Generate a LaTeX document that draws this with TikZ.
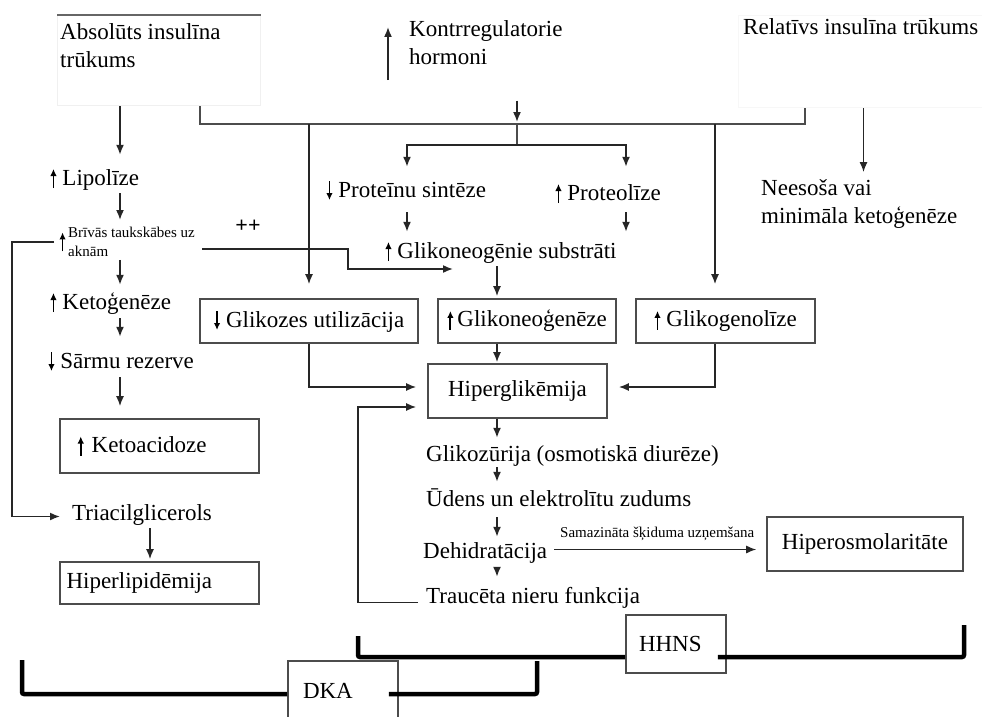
\documentclass[tikz,border=0pt]{standalone}
\usepackage{fontspec}
\setmainfont{Liberation Serif}
\usetikzlibrary{arrows.meta,calc}
\tikzset{
  >={Latex[length=10pt,width=8pt]},
  txt/.style={font=\fontsize{23}{28}\selectfont, inner sep=1pt, align=left},
  entry/.style={font=\fontsize{23}{28}\selectfont, inner sep=1pt, text height=16pt, text depth=5pt},
  small/.style={font=\fontsize{15}{19}\selectfont, inner sep=1pt, align=left},
  block/.style={draw=black!70, line width=1.6pt, fill=white, inner sep=0pt, font=\fontsize{23}{28}\selectfont},
  ghost/.style={line width=1pt, inner sep=0pt},
  conn/.style={-{Latex[length=10pt,width=8pt]}, line width=1.6pt, draw=black!85, shorten <=2pt, shorten >=2pt},
  link/.style={line width=1.3pt, draw=black!70},
  brace/.style={line width=4.5pt, rounded corners=2pt},
}
\newcommand{\arrup}{\tikz[baseline=0pt]\draw[-{Latex[length=7pt,width=6.5pt]},line width=1.8pt] (0pt,-3pt) -- (0pt,16pt);}
\newcommand{\arrdn}{\tikz[baseline=0pt]\draw[-{Latex[length=7pt,width=6.5pt]},line width=1.8pt] (0pt,16pt) -- (0pt,-3pt);}

\begin{document}
\begin{tikzpicture}[x=1pt,y=-1pt]
  \useasboundingbox (0,0) rectangle (982,717);
  \clip (0,0) rectangle (982,717);

  % column positions
  \coordinate (lc) at (120,0);
  \coordinate (lp) at (12,0);
  \coordinate (tc) at (150,0);
  \coordinate (fb) at (358,0);
  \coordinate (colA) at (407,0);
  \coordinate (colM) at (497,0);
  \coordinate (colB) at (626,0);
  \coordinate (colR) at (715,0);
  \coordinate (busL) at (200,124);
  \coordinate (hub) at (517,124);
  \coordinate (busR) at (805,124);
  \coordinate (fork) at (517,145);
  \coordinate (subin) at (455,269);

  % causes
  \node[ghost, draw=black!6, anchor=north west, minimum width=203pt, minimum height=90pt] (abs) at (57,15) {};
  \draw[link, draw=black!60] (abs.north west) -- (abs.north east);
  \node[txt, anchor=north west] (abstxt) at ($(abs.north west)+(2,7)$) {Absolūts insulīna\\trūkums};
  \node[txt, anchor=north west] (kontr) at (408,19) {Kontrregulatorie\\hormoni};
  \node[ghost, draw=black!3, anchor=north west, minimum width=250pt, minimum height=92pt] (rel) at (738,15) {};
  \node[entry, anchor=base west] (reltxt) at (742,35) {Relatīvs insulīna trūkums};
  \node[txt, anchor=north west] (nees) at (760,178) {Neesoša vai\\minimāla ketoģenēze};

  % left column
  \node[entry, anchor=base west] (lipo) at (49,185) {\arrup\ Lipolīze};
  \node[small, anchor=north west, label distance=11pt,
        label={[name=fattyup, inner sep=1pt]left:\arrup}] (fatty) at (67,226) {Brīvās taukskābes uz\\aknām};
  \node[small, font=\fontsize{22}{22}\selectfont\bfseries] (plus) at (248,226) {++};
  \node[entry, anchor=base west] (keto) at (49,309) {\arrup\ Ketoģenēze};
  \node[entry, anchor=base west] (alkali) at (47,368) {\arrdn\ Sārmu rezerve};
  \node[block, minimum width=199pt, minimum height=54pt, text width=164pt, align=left] (acid) at (159.5,446) {\arrup\ Ketoacidoze};
  \node[entry, anchor=base west] (tag) at (71,520) {Triacilglicerols};
  \node[block, minimum width=199pt, minimum height=42pt, text width=186pt, align=left] (lipid) at (159.5,583) {Hiperlipidēmija};

  % protein branch
  \node[entry, anchor=base west] (psyn) at (325,197) {\arrdn\ Proteīnu sintēze};
  \node[entry, anchor=base west] (plys) at (554,200) {\arrup\ Proteolīze};
  \node[entry, anchor=base west] (subs) at (384,258) {\arrup\ Glikoneogēnie substrāti};

  % glucose
  \node[block, minimum width=218pt, minimum height=44pt] (use) at (309,321) {\arrdn\ Glikozes utilizācija};
  \node[block, minimum width=178pt, minimum height=44pt] (neo) at (527,321) {\arrup\,Glikoneoģenēze};
  \node[block, minimum width=179pt, minimum height=44pt] (glyc) at (725.5,321) {\arrup\ Glikogenolīze};
  \node[block, minimum width=179pt, minimum height=54pt] (hyper) at (517.5,391) {Hiperglikēmija};

  % kidney chain
  \node[entry, anchor=base west] (glu) at (425,461) {Glikozūrija (osmotiskā diurēze)};
  \node[entry, anchor=base west] (water) at (425,506) {Ūdens un elektrolītu zudums};
  \node[entry, anchor=base west] (dehyd) at (422,558) {Dehidratācija};
  \node[entry, anchor=base west] (renal) at (425,603) {Traucēta nieru funkcija};
  \node[block, minimum width=196pt, minimum height=54pt] (osm) at (865,544) {Hiperosmolaritāte};

  % syndromes
  \node[block, minimum width=100pt, minimum height=58pt, text width=74pt, align=left] (hhns) at (676,644) {HHNS};
  \node[block, minimum width=110pt, minimum height=60pt, text width=80pt, align=left] (dka) at (343,691) {DKA};

  % top connections
  \draw[link] (abs.south -| busL) -- (busL) -- (busR) -- (rel.south -| busR);
  \draw[conn, shorten <=0pt, shorten >=0pt] ($(kontr.north west)+(-20,61)$) -- ($(kontr.north west)+(-20,8)$);
  \draw[conn, shorten <=35pt] (kontr.south -| hub) -- (hub);
  \draw[conn, line width=1.2pt, shorten <=0pt, shorten >=6pt] (rel.south) -- (rel.south |- nees.north);
  \draw[link] (hub) -- (fork);
  \draw[conn, shorten <=0pt, shorten >=13pt] (fork) -| (psyn.north -| colA);
  \draw[conn, shorten <=0pt, shorten >=16pt] (fork) -| (plys.north -| colB);
  \draw[conn, shorten <=9pt, shorten >=9pt] (psyn.south -| colA) -- (subs.north -| colA);
  \draw[conn, shorten <=6pt, shorten >=9pt] (plys.south -| colB) -- (subs.north -| colB);
  \draw[conn] (subs.south -| colM) -- (neo.north -| colM);
  \draw[conn, shorten <=0pt, shorten >=14pt] (busL -| use.north) -- (use.north);
  \draw[conn, shorten <=0pt, shorten >=14pt] (busR -| colR) -- (glyc.north -| colR);

  % into hyperglycaemia
  \draw[conn, shorten <=0pt, shorten >=11pt] (use.south) |- ($(hyper.west)+(0,-4)$);
  \draw[conn, shorten <=0pt, shorten >=1pt] (neo.south -| colM) -- (hyper.north -| colM);
  \draw[conn, shorten <=0pt, shorten >=11pt] (glyc.south -| colR) |- ($(hyper.east)+(0,-4)$);
  \draw[conn, shorten <=7pt, shorten >=11pt] ($(renal.west)+(0,5)$) -| (fb |- hyper.south) |- ($(hyper.west)+(0,16)$);

  % chain down
  \draw[conn, shorten <=0pt, shorten >=6pt] (hyper.south -| colM) -- (glu.north -| colM);
  \draw[conn, shorten <=0pt, shorten >=7pt] (glu.south -| colM) -- (water.north -| colM);
  \draw[conn, shorten <=5pt, shorten >=4pt] (water.south -| colM) -- (dehyd.north -| colM);
  \draw[conn, shorten <=3pt, shorten >=9pt] (dehyd.south -| colM) -- (renal.north -| colM);
  \draw[conn, line width=1.3pt, shorten <=6pt, shorten >=10pt] ($(dehyd.east)+(0,-3)$) -- ($(dehyd.east -| osm.west)+(0,-3)$)
    node[midway, above=7pt, small] {Samazināta šķiduma uzņemšana};

  % left column arrows
  \draw[conn, shorten <=0pt, shorten >=13pt] (abs.south -| lc) -- (lipo.north -| lc);
  \draw[conn, shorten >=6pt] (lipo.south -| lc) -- (fatty.north -| lc);
  \draw[conn, shorten >=7pt] (fatty.south -| lc) -- (keto.north -| lc);
  \draw[conn, shorten <=3pt, shorten >=14pt] (keto.south -| lc) -- (alkali.north -| lc);
  \draw[conn, shorten <=3pt, shorten >=12pt] (alkali.south -| lc) -- (acid.north -| lc);
  \draw[conn] (tag.south -| tc) -- (lipid.north -| tc);
  % fatty acids loop and cross link
  \draw[conn, shorten <=4pt, shorten >=11pt] (fattyup.west) -- (fattyup.west -| lp) |- ($(tag.west)+(0,2)$);
  \draw[conn] ($(fatty.east)+(4,7)$) -- ++(148,0) |- (subin);

  % brackets
  \coordinate (hhL) at (358,636);
  \coordinate (hhR) at (964,625);
  \coordinate (dkL) at (22,660);
  \coordinate (dkR) at (537,661);
  \draw[brace] (hhL) |- ($(hhns.west)+(0,13)$);
  \draw[brace] ($(hhns.east)+(-9,13)$) -| (hhR);
  \draw[brace] (dkL) |- ($(dka.west)+(0,3)$);
  \draw[brace] ($(dka.east)+(-10,3)$) -| (dkR);
\end{tikzpicture}
\end{document}
